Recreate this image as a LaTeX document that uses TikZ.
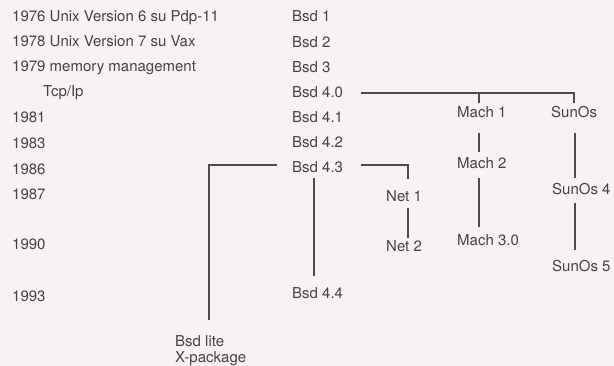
\documentclass[tikz,border=0pt]{standalone}
\usepackage{fontspec}
\setmainfont{TeX Gyre Heros}
\usetikzlibrary{calc}
\definecolor{bgc}{HTML}{F8F2F2}
\definecolor{txc}{HTML}{444444}
\definecolor{lnc}{HTML}{4C4C4C}
\begin{document}
\begin{tikzpicture}[x=1pt,y=-1pt,
  lbl/.style={anchor=base west,inner sep=0pt,text=txc,font=\fontsize{15}{17}\selectfont},
  conn/.style={draw=lnc,line width=1.2pt}]
\fill[bgc] (0,0) rectangle (614,366);
\useasboundingbox (0,0) rectangle (614,366);
% years
\node[lbl] (y1976) at (12,22) {1976 Unix Version 6 su Pdp-11};
\node[lbl] (y1978) at (12,47) {1978 Unix Version 7 su Vax};
\node[lbl] (y1979) at (12,72) {1979 memory management};
\node[lbl] (tcp) at (43,97) {Tcp/Ip};
\node[lbl] (y1981) at (12,123) {1981};
\node[lbl] (y1983) at (12,149) {1983};
\node[lbl] (y1986) at (12,175) {1986};
\node[lbl] (y1987) at (12,200) {1987};
\node[lbl] (y1990) at (12,250) {1990};
\node[lbl] (y1993) at (12,302) {1993};
% bsd
\node[lbl] (b1) at (292,22) {Bsd 1};
\node[lbl] (b2) at (292,48) {Bsd 2};
\node[lbl] (b3) at (292,73) {Bsd 3};
\node[lbl] (b40) at (292,98) {Bsd 4.0};
\node[lbl] (b41) at (292,123) {Bsd 4.1};
\node[lbl] (b42) at (292,148) {Bsd 4.2};
\node[lbl] (b43) at (292,173) {Bsd 4.3};
\node[lbl] (b44) at (292,299) {Bsd 4.4};
% branches
\node[lbl] (m1) at (457,118) {Mach 1};
\node[lbl] (m2) at (457,169) {Mach 2};
\node[lbl] (m3) at (457,246) {Mach 3.0};
\node[lbl] (s0) at (551,118) {SunOs};
\node[lbl] (s4) at (552,195) {SunOs 4};
\node[lbl] (s5) at (552,272) {SunOs 5};
\node[lbl] (n1) at (386,202) {Net 1};
\node[lbl] (n2) at (386,252) {Net 2};
\node[lbl] (lite) at (175,347) {Bsd lite};
\node[lbl] (xpk) at (175,363) {X-package};
% connectors
\draw[conn] ($(b40.base west)+(69,-5)$) -| ($(s0.base west)+(23,-15)$);
\draw[conn] ($(m1.base west)+(22,-25)$) -- ($(m1.base west)+(22,-15)$);
\draw[conn] ($(m1.base west)+(22,15)$) -- ($(m2.base west)+(22,-17)$);
\draw[conn] ($(m2.base west)+(22,9)$) -- ($(m3.base west)+(22,-19)$);
\draw[conn] ($(s0.base west)+(24,15)$) -- ($(s4.base west)+(23,-17)$);
\draw[conn] ($(s4.base west)+(23,8)$) -- ($(s5.base west)+(23,-22)$);
\draw[conn] ($(b43.base west)+(69,-8)$) -| ($(n1.base west)+(22,-23)$);
\draw[conn] ($(n1.base west)+(22,6)$) -- ($(n2.base west)+(22,-14)$);
\draw[conn] ($(b43.base west)+(22,5)$) -- ($(b44.base west)+(22,-23)$);
\draw[conn] ($(b43.base west)+(-15,-8)$) -| ($(lite.base west)+(34,-27)$);
\end{tikzpicture}
\end{document}
